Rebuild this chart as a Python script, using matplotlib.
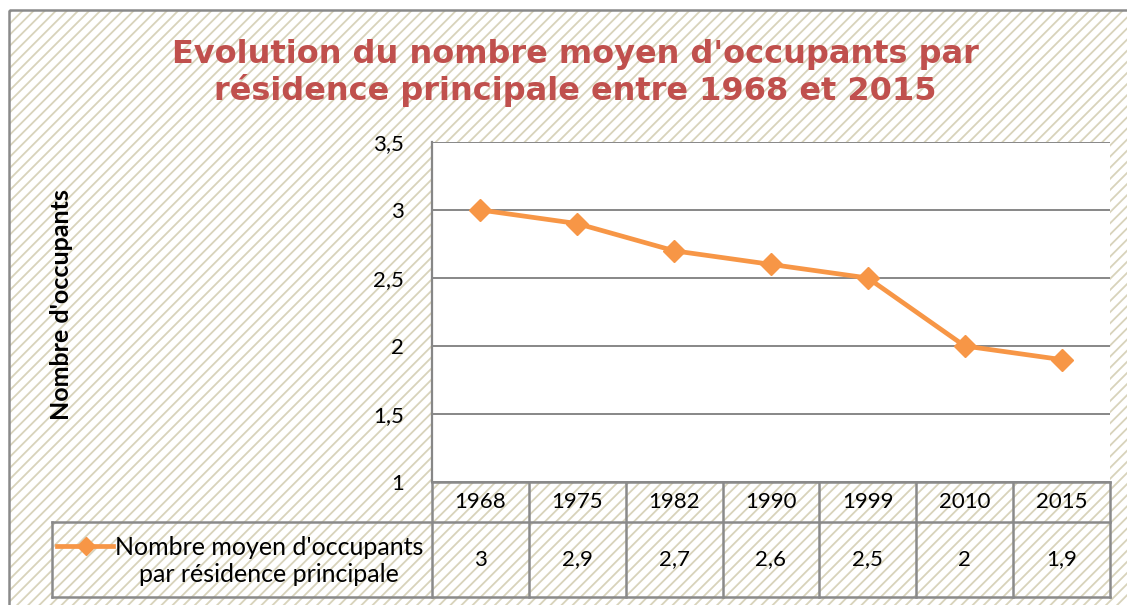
import matplotlib.pyplot as plt
from matplotlib.patches import Rectangle
from matplotlib.lines import Line2D
import matplotlib.transforms as mtransforms

years = ['1968', '1975', '1982', '1990', '1999', '2010', '2015']
occupants = [3, 2.9, 2.7, 2.6, 2.5, 2, 1.9]
value_labels = ['3', '2,9', '2,7', '2,6', '2,5', '2', '1,9']
y_ticks = [1, 1.5, 2, 2.5, 3, 3.5]
y_tick_labels = ['1', '1,5', '2', '2,5', '3', '3,5']
series_name = "Nombre moyen d'occupants\npar résidence principale"

ORANGE = '#F79646'
GRID = '#878787'
TITLE_RED = '#C0504D'
plt.rcParams['font.family'] = ['Lato', 'DejaVu Sans']
plt.rcParams['hatch.linewidth'] = 1.3

W, H = 1127, 605
fig = plt.figure(figsize=(W / 100, H / 100), dpi=100)

# --- hatched chart background ---
bg = fig.add_axes([0, 0, 1, 1], zorder=-1)
bg.set_xlim(0, W)
bg.set_ylim(H, 0)
bg.axis('off')
bg.add_patch(Rectangle((9, 10), W, H, facecolor='white', edgecolor='#d8d3bb',
                       hatch='///', linewidth=0))
bg.add_patch(Rectangle((9, 10), W, H, facecolor='none', edgecolor='#8a8a8a', linewidth=1.8))

# --- title ---
fig.text(575 / W, 1 - 73 / H, "Evolution du nombre moyen d'occupants par\nrésidence principale entre 1968 et 2015",
         ha='center', va='center', fontsize=23, fontweight='bold', color=TITLE_RED,
         family='DejaVu Sans', linespacing=1.15)

# --- plot area ---
ax = fig.add_axes([432 / W, 1 - 482 / H, 678 / W, 340 / H])
ax.set_facecolor('white')
x = list(range(len(years)))
ax.plot(x, occupants, color=ORANGE, linewidth=3.4, marker='D', markersize=11,
        markerfacecolor=ORANGE, markeredgecolor=ORANGE, zorder=3, clip_on=False)
ax.set_xlim(-0.5, len(years) - 0.5)
ax.set_ylim(1, 3.5)
ax.set_yticks(y_ticks)
ax.set_yticklabels(y_tick_labels, fontsize=16)
ax.set_xticks([])
ax.tick_params(axis='y', length=0, pad=20)
ax.yaxis.grid(True, color=GRID, linewidth=1.4)
ax.set_axisbelow(True)
for s in ['top', 'right', 'bottom']:
    ax.spines[s].set_visible(False)
ax.spines['left'].set_color(GRID)
ax.spines['left'].set_linewidth(1.6)
ax.set_ylabel("Nombre d'occupants", fontsize=18, fontweight='bold', labelpad=0)
ax.yaxis.set_label_coords((73 - 432) / 678, (482 - 305) / 340)

# --- data table below the plot ---
trans = mtransforms.blended_transform_factory(ax.transData, ax.transAxes)
row1 = -40 / 340
row2 = -115 / 340
leg_left = (52 - 432) / 678
tcol = '#8a8a8a'
lw = 1.8

def axline(xs, ys, transform):
    ax.add_line(Line2D(xs, ys, transform=transform, color=tcol, linewidth=lw, clip_on=False))

axline([-0.5, len(years) - 0.5], [0, 0], trans)
axline([leg_left, 1], [row1, row1], ax.transAxes)
axline([leg_left, 1], [row2, row2], ax.transAxes)
axline([leg_left, leg_left], [row1, row2], ax.transAxes)
for i in range(len(years) + 1):
    axline([i - 0.5, i - 0.5], [0, row2], trans)

for i, (yr, v) in enumerate(zip(years, value_labels)):
    ax.text(i, row1 / 2, yr, transform=trans, ha='center', va='center', fontsize=16, clip_on=False)
    ax.text(i, (row1 + row2) / 2, v, transform=trans, ha='center', va='center', fontsize=16, clip_on=False)

# legend key inside the table
ly = 1 - (546 - 142) / 340
ax.add_line(Line2D([(57 - 432) / 678, (113 - 432) / 678], [ly, ly], transform=ax.transAxes,
                   color=ORANGE, linewidth=3.4, clip_on=False))
ax.add_line(Line2D([(86 - 432) / 678], [ly], transform=ax.transAxes, marker='D', markersize=9,
                   color=ORANGE, clip_on=False))
ax.text((269 - 432) / 678, 1 - (561 - 142) / 340, series_name, transform=ax.transAxes,
        ha='center', va='center', fontsize=18, linespacing=1.25, clip_on=False)

fig.savefig('out.png', dpi=100)
